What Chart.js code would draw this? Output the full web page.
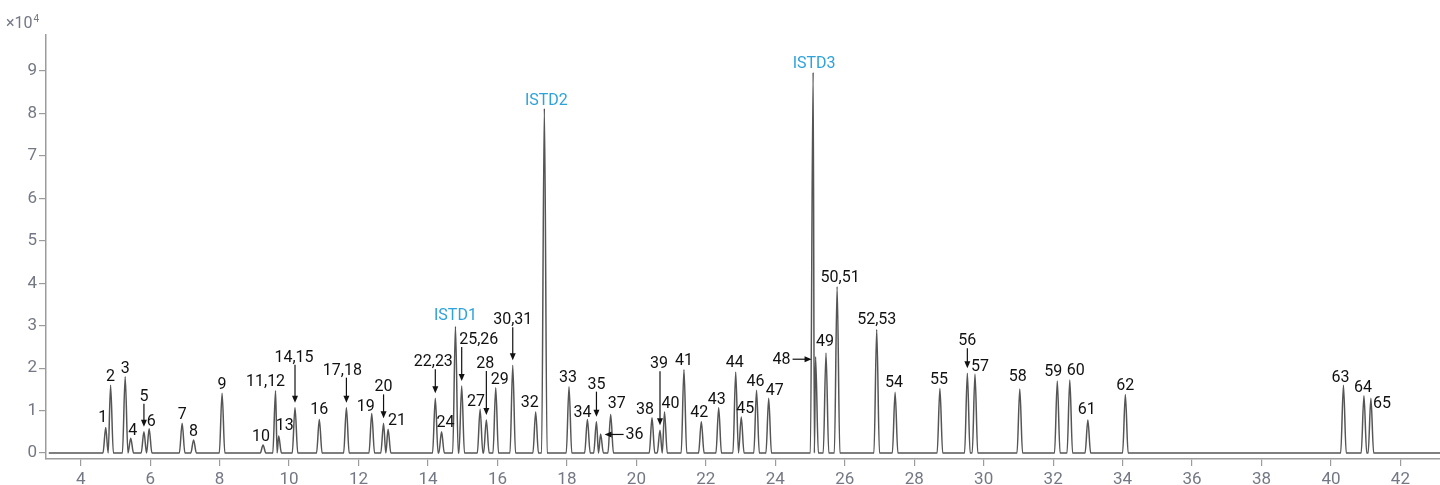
<!DOCTYPE html>
<html>
<head>
<meta charset="utf-8">
<script src="https://cdn.jsdelivr.net/npm/chart.js@4.4.1/dist/chart.umd.min.js"></script>
<style>
  html, body { margin: 0; padding: 0; background: #ffffff; }
  #wrap { width: 1440px; height: 485px; position: relative; }
</style>
</head>
<body>
<div id="wrap"><canvas id="chrom"></canvas></div>
<script>
// Peak table: compound label, retention time (min), apex response (x10^4 counts)
const peakNames = [
  '1', '2', '3', '4', '5', '6', '7', '8', '9', '10',
  '11,12', '13', '14,15', '16', '17,18', '19', '20', '21', '22,23', '24',
  'ISTD1', '25,26', '27', '28', '29', '30,31', '32', 'ISTD2', '33', '34',
  '35', '36', '37', '38', '39', '40', '41', '42', '43', '44',
  '45', '46', '47', 'ISTD3', '48', '49', '50,51', '52,53', '54', '55',
  '56', '57', '58', '59', '60', '61', '62', '63', '64', '65'
];
const retentionTimes = [
  4.72, 4.86, 5.28, 5.44, 5.82, 5.97, 6.92, 7.25, 8.07, 9.25,
  9.61, 9.70, 10.17, 10.87, 11.65, 12.38, 12.72, 12.85, 14.21, 14.39,
  14.79, 14.97, 15.50, 15.68, 15.95, 16.44, 17.10, 17.35, 18.06, 18.59,
  18.85, 18.97, 19.26, 20.45, 20.68, 20.81, 21.37, 21.87, 22.37, 22.86,
  23.02, 23.46, 23.81, 25.09, 25.16, 25.46, 25.78, 26.92, 27.45, 28.74,
  29.53, 29.75, 31.04, 32.12, 32.48, 33.00, 34.08, 40.36, 40.95, 41.15
];
const peakHeights = [
  0.60, 1.60, 1.80, 0.35, 0.50, 0.57, 0.70, 0.31, 1.41, 0.19,
  1.47, 0.40, 1.07, 0.79, 1.07, 0.93, 0.70, 0.56, 1.29, 0.50,
  2.98, 1.58, 1.03, 0.78, 1.54, 2.07, 0.97, 8.12, 1.56, 0.79,
  0.74, 0.45, 0.91, 0.83, 0.54, 0.97, 1.97, 0.74, 1.07, 1.91,
  0.85, 1.48, 1.29, 8.97, 2.27, 2.36, 3.92, 2.91, 1.43, 1.52,
  1.88, 1.86, 1.51, 1.70, 1.72, 0.78, 1.38, 1.60, 1.35, 1.29
];
const internalStandards = ['ISTD1', 'ISTD2', 'ISTD3'];

// Acquisition window and baseline level
const runStart = 3.08;
const runEnd = 43.3;
const baselineLevel = 0.0;

// Axis ticks
const xTicks = [4, 6, 8, 10, 12, 14, 16, 18, 20, 22, 24, 26, 28, 30, 32, 34, 36, 38, 40, 42];
const yTicks = [0, 1, 2, 3, 4, 5, 6, 7, 8, 9];

// ---- build the trace vertices (baseline feet + apex for every peak) ----
const HALF_BASE = 0.08; // half of a peak's base width, in minutes
const trace = [{ x: runStart, y: baselineLevel }];
retentionTimes.forEach((t, i) => {
  const prev = retentionTimes[i - 1];
  const next = retentionTimes[i + 1];
  const sharesLeftFoot = i > 0 && (t - prev) < 2 * HALF_BASE;
  if (!sharesLeftFoot) trace.push({ x: t - HALF_BASE, y: baselineLevel });
  trace.push({ x: t, y: peakHeights[i] });
  if (next !== undefined && (next - t) < 2 * HALF_BASE) {
    trace.push({ x: (t + next) / 2, y: baselineLevel });
  } else {
    trace.push({ x: t + HALF_BASE, y: baselineLevel });
  }
});
trace.push({ x: runEnd, y: baselineLevel });

// ---- label placement (pixel offsets relative to each apex) ----
// gap: distance from apex up to the text baseline; dx: horizontal shift of text
// arrow: 'down' draws a vertical pointer, 'left'/'right' a horizontal one
const labelLayout = {
  '1': { dx: -3, gap: 6 },
  '4': { dx: 2, gap: 3 },
  '5': { arrow: 'down', gap: 31 },
  '6': { dx: 2, gap: 3 },
  '10': { dx: -2 },
  '11,12': { dx: -10, gap: 5 },
  '13': { dx: 6, gap: 6 },
  '14,15': { dx: -1, arrow: 'down', gap: 46 },
  '16': { gap: 6 },
  '17,18': { dx: -4, arrow: 'down', gap: 33 },
  '19': { dx: -6, gap: 3 },
  '20': { arrow: 'down', gap: 32 },
  '21': { dx: 9, gap: 4 },
  '22,23': { dx: -2, arrow: 'down', gap: 32 },
  '24': { dx: 4, gap: 5 },
  'ISTD1': { gap: 7 },
  '25,26': { dx: 17, arrow: 'down', gap: 42 },
  '27': { dx: -4, gap: 3 },
  '28': { dx: -1, arrow: 'down', gap: 52 },
  '29': { dx: 4, gap: 4 },
  '30,31': { arrow: 'down', gap: 41 },
  '32': { dx: -6, gap: 5 },
  'ISTD2': { dx: 2, gap: 3 },
  '33': { dx: -1, gap: 5 },
  '34': { dx: -5, gap: 3 },
  '35': { arrow: 'down', gap: 33 },
  '36': { arrow: 'left', dx: 34, dy: 1 },
  '37': { dx: 6, gap: 6 },
  '38': { dx: -7, gap: 4 },
  '39': { dx: -1, arrow: 'down', gap: 62 },
  '40': { dx: 6, gap: 4 },
  '42': { dx: -2, gap: 5 },
  '43': { dx: -2, gap: 4 },
  '44': { dx: -1, gap: 5 },
  '45': { dx: 4, gap: 4 },
  '46': { dx: -1, gap: 4 },
  '47': { dx: 6, gap: 3 },
  'ISTD3': { dx: 1, gap: 4 },
  '48': { arrow: 'right', dx: -34, dy: 3 },
  '49': { dx: -1, gap: 7 },
  '50,51': { dx: 3, gap: 5 },
  '52,53': { gap: 6 },
  '54': { dx: -1, gap: 5 },
  '55': { dx: -1, gap: 5 },
  '56': { arrow: 'down', gap: 28 },
  '57': { dx: 5, gap: 3 },
  '58': { dx: -2, gap: 8 },
  '59': { dx: -4, gap: 5 },
  '60': { dx: 6, gap: 5 },
  '61': { dx: -1, gap: 6 },
  '63': { dx: -3, gap: 3 },
  '64': { dx: -1, gap: 4 },
  '65': { dx: 11, gap: -10 }
};

const FONT = 'Roboto, "Liberation Sans", sans-serif';
const AXIS_COLOR = '#9c9c9c';
const TICK_TEXT = '#747884';
const LABEL_COLOR = '#111111';
const ISTD_COLOR = '#2ea2da';

function drawArrowHead(ctx, x, y, dir) {
  const len = 7, half = 3;
  ctx.beginPath();
  if (dir === 'down') {
    ctx.moveTo(x, y); ctx.lineTo(x - half, y - len); ctx.lineTo(x + half, y - len);
  } else if (dir === 'left') {
    ctx.moveTo(x, y); ctx.lineTo(x + len, y - half); ctx.lineTo(x + len, y + half);
  } else {
    ctx.moveTo(x, y); ctx.lineTo(x - len, y - half); ctx.lineTo(x - len, y + half);
  }
  ctx.closePath();
  ctx.fill();
}

const peakLabelPlugin = {
  id: 'peakLabels',
  afterDatasetsDraw(chart) {
    const { ctx, scales: { x, y } } = chart;
    ctx.save();
    ctx.font = '16px ' + FONT;
    ctx.lineWidth = 1.2;
    peakNames.forEach((name, i) => {
      const lay = labelLayout[name] || {};
      const px = x.getPixelForValue(retentionTimes[i]);
      const py = y.getPixelForValue(peakHeights[i]);
      const color = internalStandards.includes(name) ? ISTD_COLOR : LABEL_COLOR;
      ctx.fillStyle = color;
      ctx.strokeStyle = LABEL_COLOR;
      const dx = lay.dx || 0;
      const w = ctx.measureText(name).width;
      if (lay.arrow === 'left' || lay.arrow === 'right') {
        const cx = px + dx, cy = py + (lay.dy || 0);
        ctx.textAlign = 'center';
        ctx.textBaseline = 'middle';
        ctx.fillText(name, cx, cy);
        ctx.fillStyle = LABEL_COLOR;
        let from, to;
        if (lay.arrow === 'left') { from = cx - w / 2 - 2; to = px + 4; }
        else { from = cx + w / 2 + 2; to = px - 4; }
        ctx.beginPath();
        ctx.moveTo(from, cy - 0.5);
        ctx.lineTo(to + (lay.arrow === 'left' ? 5 : -5), cy - 0.5);
        ctx.stroke();
        drawArrowHead(ctx, to, cy - 0.5, lay.arrow);
        return;
      }
      const gap = lay.gap === undefined ? 4 : lay.gap;
      const base = py - gap;
      ctx.textAlign = 'center';
      ctx.textBaseline = 'alphabetic';
      ctx.fillText(name, px + dx, base);
      if (lay.arrow === 'down') {
        ctx.fillStyle = LABEL_COLOR;
        const tip = py - 5;
        ctx.beginPath();
        ctx.moveTo(px, base + 3);
        ctx.lineTo(px, tip - 5);
        ctx.stroke();
        drawArrowHead(ctx, px, tip, 'down');
      }
    });
    ctx.restore();
  }
};

const multiplierPlugin = {
  id: 'yMultiplier',
  afterDraw(chart) {
    const ctx = chart.ctx;
    ctx.save();
    ctx.fillStyle = TICK_TEXT;
    ctx.textAlign = 'left';
    ctx.textBaseline = 'alphabetic';
    ctx.font = '16px ' + FONT;
    ctx.fillText('\u00d710', 6, 28);
    const w = ctx.measureText('\u00d710').width;
    ctx.font = '10px ' + FONT;
    ctx.fillText('4', 6 + w + 1, 22);
    ctx.restore();
  }
};

new Chart(document.getElementById('chrom'), {
  type: 'line',
  data: {
    datasets: [{
      data: trace,
      borderColor: '#555555',
      borderWidth: 1.5,
      pointRadius: 0,
      fill: false,
      cubicInterpolationMode: 'monotone'
    }]
  },
  options: {
    responsive: true,
    maintainAspectRatio: false,
    animation: false,
    events: [],
    layout: { padding: { top: 35, right: 0, bottom: 0, left: 0 } },
    plugins: { legend: { display: false }, tooltip: { enabled: false } },
    scales: {
      x: {
        type: 'linear',
        min: 3.0,
        max: 43.14,
        afterBuildTicks: s => { s.ticks = xTicks.map(v => ({ value: v })); },
        afterFit: s => { s.height = 26; },
        grid: { display: true, drawOnChartArea: false, drawTicks: true, tickLength: 7, color: AXIS_COLOR, lineWidth: 1.2 },
        border: { display: true, color: AXIS_COLOR, width: 1.5 },
        ticks: { color: TICK_TEXT, font: { family: FONT, size: 17 }, padding: 4, maxRotation: 0, autoSkip: false }
      },
      y: {
        type: 'linear',
        min: -0.14,
        max: 9.85,
        afterBuildTicks: s => { s.ticks = yTicks.map(v => ({ value: v })); },
        afterFit: s => { s.width = 46; },
        grid: { display: true, drawOnChartArea: false, drawTicks: true, tickLength: 7, color: AXIS_COLOR, lineWidth: 1.2 },
        border: { display: true, color: AXIS_COLOR, width: 1.5 },
        ticks: { color: TICK_TEXT, font: { family: FONT, size: 17 }, padding: 2 }
      }
    }
  },
  plugins: [peakLabelPlugin, multiplierPlugin]
});
</script>
</body>
</html>
